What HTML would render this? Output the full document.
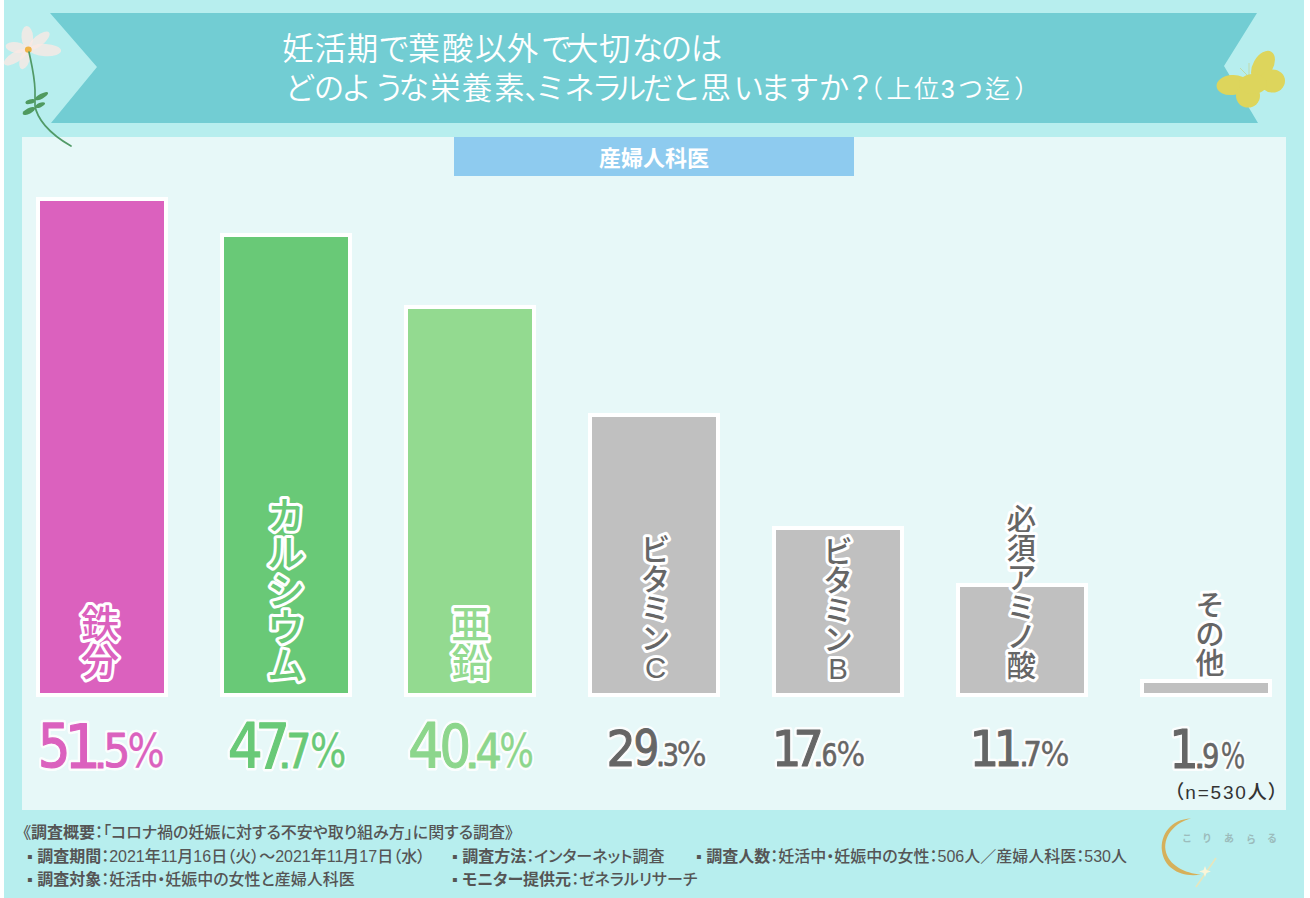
<!DOCTYPE html>
<html lang="ja"><head><meta charset="utf-8"><title>妊活期で葉酸以外で大切な栄養素</title>
<style>
*{margin:0;padding:0;box-sizing:content-box}
html,body{width:1310px;height:898px;overflow:hidden;background:#fff}
body{position:relative;font-family:"Liberation Sans","Noto Sans CJK JP",sans-serif}
.bg{position:absolute;left:4px;top:0;width:1300px;height:898px;background:#b7eeee}
.panel{position:absolute;left:22px;top:137px;width:1264px;height:673px;background:#e7f8f8}
.sub{position:absolute;left:454px;top:137px;width:400px;height:39px;background:#8ecbef;color:#fff;
  font:700 22px/44px "Liberation Sans","Noto Sans CJK JP",sans-serif;text-align:center;letter-spacing:0}
.bar{position:absolute;border:4px solid #fff}
.t1,.t2{position:absolute;color:#fff;white-space:nowrap;font-family:"Liberation Sans","Noto Sans CJK JP",sans-serif;font-weight:400}
.t1,.t2{font-feature-settings:"palt"}
.t1{left:282px;top:33px;font-size:31px;line-height:1}
.t2{left:287px;top:73px;font-size:31px;line-height:1}
.t2 small{font-size:23px}
svg{position:absolute;left:0;top:0}
.foot{position:absolute;color:#555555;font:500 16px/1 "Liberation Sans","Noto Sans CJK JP",sans-serif;white-space:nowrap;font-feature-settings:"palt"}
.foot b{font-weight:700}
.n{position:absolute;left:1174px;top:783px;color:#333;font:500 19px/1 "Liberation Sans","Noto Sans CJK JP",sans-serif;white-space:nowrap;letter-spacing:1.8px;font-feature-settings:"palt"}
</style></head><body>
<div class="bg"></div>
<svg width="1310" height="140" viewBox="0 0 1310 140">
 <polygon points="50,13 1257,13 1224,66 1258,123 51,123 97,67" fill="#72cdd3"/>
 <g font-family="Liberation Sans, Noto Sans CJK JP, sans-serif"><g fill="#fff" font-weight="350"><text x="282.28" y="59.5" font-size="31.5">妊</text><text x="314.68" y="59.5" font-size="31.5">活</text><text x="346.74" y="59.5" font-size="31.5">期</text><text x="378.28" y="59.5" font-size="31.5">で</text><text x="408.20" y="59.5" font-size="31.5">葉</text><text x="441.97" y="59.5" font-size="31.5">酸</text><text x="474.94" y="59.5" font-size="31.5">以</text><text x="506.75" y="59.5" font-size="31.5">外</text><text x="540.88" y="59.5" font-size="31.5">で</text><text x="566.88" y="59.5" font-size="31.5">大</text><text x="599.05" y="59.5" font-size="31.5">切</text><text x="631.71" y="59.5" font-size="31.5">な</text><text x="660.66" y="59.5" font-size="31.5">の</text><text x="690.68" y="59.5" font-size="31.5">は</text><text x="284.66" y="98.8" font-size="30.5">ど</text><text x="313.75" y="98.8" font-size="30.5">の</text><text x="341.19" y="98.8" font-size="30.5">よ</text><text x="373.97" y="98.8" font-size="30.5">う</text><text x="398.60" y="98.8" font-size="30.5">な</text><text x="429.93" y="98.8" font-size="30.5">栄</text><text x="461.63" y="98.8" font-size="30.5">養</text><text x="494.33" y="98.8" font-size="30.5">素</text><text x="524.32" y="98.8" font-size="30.5">、</text><text x="534.97" y="98.8" font-size="30.5">ミ</text><text x="564.16" y="98.8" font-size="30.5">ネ</text><text x="591.73" y="98.8" font-size="30.5">ラ</text><text x="615.66" y="98.8" font-size="30.5">ル</text><text x="642.57" y="98.8" font-size="30.5">だ</text><text x="670.40" y="98.8" font-size="30.5">と</text><text x="700.48" y="98.8" font-size="30.5">思</text><text x="733.49" y="98.8" font-size="30.5">い</text><text x="760.11" y="98.8" font-size="30.5">ま</text><text x="788.60" y="98.8" font-size="30.5">す</text><text x="818.86" y="98.8" font-size="30.5">か</text><text x="844.92" y="98.8" font-size="30.5">？</text><text x="858.02" y="98.4" font-size="25">（</text><text x="886.55" y="98.4" font-size="25">上</text><text x="914.10" y="98.4" font-size="25">位</text><text x="940.65" y="98.4" font-size="25">3</text><text x="958.12" y="98.4" font-size="25">つ</text><text x="985.12" y="98.4" font-size="25">迄</text><text x="1014.35" y="98.4" font-size="25">）</text></g></g>
</svg>
<div class="panel"></div>
<div class="sub">産婦人科医</div>
<div class="bar" style="left:36px;top:197px;width:124px;height:492px;background:#db61be"></div><div class="bar" style="left:220px;top:233px;width:124px;height:456px;background:#69c977"></div><div class="bar" style="left:404px;top:305px;width:124px;height:384px;background:#93da90"></div><div class="bar" style="left:588px;top:413px;width:124px;height:276px;background:#c0c0c0"></div><div class="bar" style="left:772px;top:526px;width:124px;height:163px;background:#c0c0c0"></div><div class="bar" style="left:956px;top:583px;width:124px;height:106px;background:#c0c0c0"></div><div class="bar" style="left:1140px;top:679px;width:124px;height:10px;background:#c0c0c0"></div>
<svg width="1310" height="898" viewBox="0 0 1310 898" font-family="Liberation Sans, Noto Sans CJK JP, sans-serif">
<g font-size="38" font-weight="500" fill="#db61be" stroke="#fff" stroke-width="6.0" stroke-linejoin="round" paint-order="stroke" text-anchor="middle"><text x="100.0" y="636.88">鉄</text><text x="100.0" y="674.88">分</text></g><g font-size="37.5" font-weight="500" fill="#69c977" stroke="#fff" stroke-width="6.0" stroke-linejoin="round" paint-order="stroke" text-anchor="middle"><text x="286.0" y="528.90">カ</text><text x="286.0" y="566.40">ル</text><text x="286.0" y="603.90">シ</text><text x="286.0" y="641.40">ウ</text><text x="286.0" y="678.90">ム</text></g><g font-size="38" font-weight="500" fill="#93da90" stroke="#fff" stroke-width="6.0" stroke-linejoin="round" paint-order="stroke" text-anchor="middle"><text x="470.5" y="637.67">亜</text><text x="470.5" y="675.67">鉛</text></g><g font-size="29.4" font-weight="500" fill="#666666" stroke="#fff" stroke-width="6.0" stroke-linejoin="round" paint-order="stroke" text-anchor="middle"><text x="655.5" y="560.46">ビ</text><text x="655.5" y="589.86">タ</text><text x="655.5" y="619.26">ミ</text><text x="655.5" y="648.66">ン</text><text x="655.5" y="678.06">C</text></g><g font-size="29.4" font-weight="500" fill="#666666" stroke="#fff" stroke-width="6.0" stroke-linejoin="round" paint-order="stroke" text-anchor="middle"><text x="838.0" y="561.70">ビ</text><text x="838.0" y="591.10">タ</text><text x="838.0" y="620.50">ミ</text><text x="838.0" y="649.90">ン</text><text x="838.0" y="679.30">B</text></g><g font-size="29.3" font-weight="500" fill="#666666" stroke="#fff" stroke-width="6.0" stroke-linejoin="round" paint-order="stroke" text-anchor="middle"><text x="1021.5" y="529.81">必</text><text x="1021.5" y="559.11">須</text><text x="1021.5" y="588.41">ア</text><text x="1021.5" y="617.71">ミ</text><text x="1021.5" y="647.01">ノ</text><text x="1021.5" y="676.31">酸</text></g><g font-size="29.0" font-weight="500" fill="#666666" stroke="#fff" stroke-width="6.0" stroke-linejoin="round" paint-order="stroke" text-anchor="middle"><text x="1210.0" y="616.03">そ</text><text x="1210.0" y="645.03">の</text><text x="1210.0" y="674.03">他</text></g>
<g font-family="DejaVu Sans, sans-serif" font-weight="400"><text transform="translate(37.63 766.90) scale(0.856 1)" font-size="60.27" fill="#fff" stroke="#fff" stroke-width="6.2" stroke-linejoin="round" opacity="0.85">5</text><text transform="translate(64.23 767.80) scale(0.948 1)" font-size="61.10" fill="#fff" stroke="#fff" stroke-width="6.2" stroke-linejoin="round" opacity="0.85">1</text><text transform="translate(93.40 767.90) scale(1.119 1)" font-size="40.00" fill="#fff" stroke="#fff" stroke-width="6.0" stroke-linejoin="round" opacity="0.85">.</text><text transform="translate(103.29 767.20) scale(0.919 1)" font-size="46.49" fill="#fff" stroke="#fff" stroke-width="6.0" stroke-linejoin="round" opacity="0.85">5</text><text transform="translate(127.60 767.36) scale(0.847 1)" font-size="46.23" fill="#fff" stroke="#fff" stroke-width="5.3" stroke-linejoin="round" opacity="0.85">%</text><text transform="translate(227.85 767.80) scale(0.896 1)" font-size="61.52" fill="#fff" stroke="#fff" stroke-width="6.2" stroke-linejoin="round" opacity="0.85">4</text><text transform="translate(255.21 767.80) scale(0.892 1)" font-size="61.52" fill="#fff" stroke="#fff" stroke-width="6.2" stroke-linejoin="round" opacity="0.85">7</text><text transform="translate(278.00 767.90) scale(1.071 1)" font-size="40.00" fill="#fff" stroke="#fff" stroke-width="6.0" stroke-linejoin="round" opacity="0.85">.</text><text transform="translate(286.35 767.90) scale(0.830 1)" font-size="47.45" fill="#fff" stroke="#fff" stroke-width="6.0" stroke-linejoin="round" opacity="0.85">7</text><text transform="translate(310.04 767.36) scale(0.829 1)" font-size="46.23" fill="#fff" stroke="#fff" stroke-width="5.3" stroke-linejoin="round" opacity="0.85">%</text><text transform="translate(408.00 767.50) scale(0.909 1)" font-size="61.66" fill="#fff" stroke="#fff" stroke-width="6.2" stroke-linejoin="round" opacity="0.85">4</text><text transform="translate(439.58 766.61) scale(0.836 1)" font-size="59.21" fill="#fff" stroke="#fff" stroke-width="6.2" stroke-linejoin="round" opacity="0.85">0</text><text transform="translate(464.20 767.60) scale(1.237 1)" font-size="40.80" fill="#fff" stroke="#fff" stroke-width="6.0" stroke-linejoin="round" opacity="0.85">.</text><text transform="translate(475.42 767.60) scale(0.865 1)" font-size="48.00" fill="#fff" stroke="#fff" stroke-width="6.0" stroke-linejoin="round" opacity="0.85">4</text><text transform="translate(499.14 767.24) scale(0.777 1)" font-size="47.02" fill="#fff" stroke="#fff" stroke-width="5.3" stroke-linejoin="round" opacity="0.85">%</text><text transform="translate(606.49 766.05) scale(0.919 1)" font-size="50.14" fill="#fff" stroke="#fff" stroke-width="6.1" stroke-linejoin="round" opacity="0.85">2</text><text transform="translate(633.51 765.31) scale(0.826 1)" font-size="49.14" fill="#fff" stroke="#fff" stroke-width="6.1" stroke-linejoin="round" opacity="0.85">9</text><text transform="translate(656.00 766.10) scale(0.893 1)" font-size="32.00" fill="#fff" stroke="#fff" stroke-width="6.0" stroke-linejoin="round" opacity="0.85">.</text><text transform="translate(662.84 765.76) scale(0.780 1)" font-size="32.58" fill="#fff" stroke="#fff" stroke-width="5.7" stroke-linejoin="round" opacity="0.85">3</text><text transform="translate(676.72 766.14) scale(0.931 1)" font-size="33.77" fill="#fff" stroke="#fff" stroke-width="5.3" stroke-linejoin="round" opacity="0.85">%</text><text transform="translate(771.72 766.05) scale(0.931 1)" font-size="50.14" fill="#fff" stroke="#fff" stroke-width="6.1" stroke-linejoin="round" opacity="0.85">1</text><text transform="translate(793.17 766.05) scale(0.961 1)" font-size="50.48" fill="#fff" stroke="#fff" stroke-width="6.1" stroke-linejoin="round" opacity="0.85">7</text><text transform="translate(813.10 766.10) scale(1.071 1)" font-size="32.00" fill="#fff" stroke="#fff" stroke-width="6.0" stroke-linejoin="round" opacity="0.85">.</text><text transform="translate(821.59 765.77) scale(0.791 1)" font-size="31.79" fill="#fff" stroke="#fff" stroke-width="5.7" stroke-linejoin="round" opacity="0.85">6</text><text transform="translate(836.49 765.96) scale(0.921 1)" font-size="32.85" fill="#fff" stroke="#fff" stroke-width="5.3" stroke-linejoin="round" opacity="0.85">%</text><text transform="translate(969.62 766.05) scale(0.931 1)" font-size="50.14" fill="#fff" stroke="#fff" stroke-width="6.1" stroke-linejoin="round" opacity="0.85">1</text><text transform="translate(993.84 766.05) scale(0.890 1)" font-size="50.14" fill="#fff" stroke="#fff" stroke-width="6.1" stroke-linejoin="round" opacity="0.85">1</text><text transform="translate(1019.50 766.10) scale(0.893 1)" font-size="32.00" fill="#fff" stroke="#fff" stroke-width="6.0" stroke-linejoin="round" opacity="0.85">.</text><text transform="translate(1023.55 766.25) scale(0.836 1)" font-size="34.34" fill="#fff" stroke="#fff" stroke-width="5.7" stroke-linejoin="round" opacity="0.85">7</text><text transform="translate(1040.47 765.95) scale(0.909 1)" font-size="33.51" fill="#fff" stroke="#fff" stroke-width="5.3" stroke-linejoin="round" opacity="0.85">%</text><text transform="translate(1169.34 768.25) scale(0.883 1)" font-size="52.60" fill="#fff" stroke="#fff" stroke-width="6.1" stroke-linejoin="round" opacity="0.85">1</text><text transform="translate(1194.00 768.30) scale(1.131 1)" font-size="32.00" fill="#fff" stroke="#fff" stroke-width="6.0" stroke-linejoin="round" opacity="0.85">.</text><text transform="translate(1202.07 767.93) scale(0.793 1)" font-size="34.57" fill="#fff" stroke="#fff" stroke-width="5.7" stroke-linejoin="round" opacity="0.85">9</text><text transform="translate(1220.73 768.11) scale(0.717 1)" font-size="36.03" fill="#fff" stroke="#fff" stroke-width="5.3" stroke-linejoin="round" opacity="0.85">%</text><text transform="translate(37.63 766.90) scale(0.856 1)" font-size="60.27" fill="#db61be" stroke="#db61be" stroke-width="1.20" stroke-linejoin="round">5</text><text transform="translate(64.23 767.80) scale(0.948 1)" font-size="61.10" fill="#db61be" stroke="#db61be" stroke-width="1.20" stroke-linejoin="round">1</text><text transform="translate(93.40 767.90) scale(1.119 1)" font-size="40.00" fill="#db61be" stroke="#db61be" stroke-width="1.00" stroke-linejoin="round">.</text><text transform="translate(103.29 767.20) scale(0.919 1)" font-size="46.49" fill="#db61be" stroke="#db61be" stroke-width="1.00" stroke-linejoin="round">5</text><text transform="translate(127.60 767.36) scale(0.847 1)" font-size="46.23" fill="#db61be" stroke="#db61be" stroke-width="0.30" stroke-linejoin="round">%</text><text transform="translate(227.85 767.80) scale(0.896 1)" font-size="61.52" fill="#69c977" stroke="#69c977" stroke-width="1.20" stroke-linejoin="round">4</text><text transform="translate(255.21 767.80) scale(0.892 1)" font-size="61.52" fill="#69c977" stroke="#69c977" stroke-width="1.20" stroke-linejoin="round">7</text><text transform="translate(278.00 767.90) scale(1.071 1)" font-size="40.00" fill="#69c977" stroke="#69c977" stroke-width="1.00" stroke-linejoin="round">.</text><text transform="translate(286.35 767.90) scale(0.830 1)" font-size="47.45" fill="#69c977" stroke="#69c977" stroke-width="1.00" stroke-linejoin="round">7</text><text transform="translate(310.04 767.36) scale(0.829 1)" font-size="46.23" fill="#69c977" stroke="#69c977" stroke-width="0.30" stroke-linejoin="round">%</text><text transform="translate(408.00 767.50) scale(0.909 1)" font-size="61.66" fill="#8dd68c" stroke="#8dd68c" stroke-width="1.20" stroke-linejoin="round">4</text><text transform="translate(439.58 766.61) scale(0.836 1)" font-size="59.21" fill="#8dd68c" stroke="#8dd68c" stroke-width="1.20" stroke-linejoin="round">0</text><text transform="translate(464.20 767.60) scale(1.237 1)" font-size="40.80" fill="#8dd68c" stroke="#8dd68c" stroke-width="1.00" stroke-linejoin="round">.</text><text transform="translate(475.42 767.60) scale(0.865 1)" font-size="48.00" fill="#8dd68c" stroke="#8dd68c" stroke-width="1.00" stroke-linejoin="round">4</text><text transform="translate(499.14 767.24) scale(0.777 1)" font-size="47.02" fill="#8dd68c" stroke="#8dd68c" stroke-width="0.30" stroke-linejoin="round">%</text><text transform="translate(606.49 766.05) scale(0.919 1)" font-size="50.14" fill="#666666" stroke="#666666" stroke-width="1.10" stroke-linejoin="round">2</text><text transform="translate(633.51 765.31) scale(0.826 1)" font-size="49.14" fill="#666666" stroke="#666666" stroke-width="1.10" stroke-linejoin="round">9</text><text transform="translate(656.00 766.10) scale(0.893 1)" font-size="32.00" fill="#666666" stroke="#666666" stroke-width="1.00" stroke-linejoin="round">.</text><text transform="translate(662.84 765.76) scale(0.780 1)" font-size="32.58" fill="#666666" stroke="#666666" stroke-width="0.70" stroke-linejoin="round">3</text><text transform="translate(676.72 766.14) scale(0.931 1)" font-size="33.77" fill="#666666" stroke="#666666" stroke-width="0.30" stroke-linejoin="round">%</text><text transform="translate(771.72 766.05) scale(0.931 1)" font-size="50.14" fill="#666666" stroke="#666666" stroke-width="1.10" stroke-linejoin="round">1</text><text transform="translate(793.17 766.05) scale(0.961 1)" font-size="50.48" fill="#666666" stroke="#666666" stroke-width="1.10" stroke-linejoin="round">7</text><text transform="translate(813.10 766.10) scale(1.071 1)" font-size="32.00" fill="#666666" stroke="#666666" stroke-width="1.00" stroke-linejoin="round">.</text><text transform="translate(821.59 765.77) scale(0.791 1)" font-size="31.79" fill="#666666" stroke="#666666" stroke-width="0.70" stroke-linejoin="round">6</text><text transform="translate(836.49 765.96) scale(0.921 1)" font-size="32.85" fill="#666666" stroke="#666666" stroke-width="0.30" stroke-linejoin="round">%</text><text transform="translate(969.62 766.05) scale(0.931 1)" font-size="50.14" fill="#666666" stroke="#666666" stroke-width="1.10" stroke-linejoin="round">1</text><text transform="translate(993.84 766.05) scale(0.890 1)" font-size="50.14" fill="#666666" stroke="#666666" stroke-width="1.10" stroke-linejoin="round">1</text><text transform="translate(1019.50 766.10) scale(0.893 1)" font-size="32.00" fill="#666666" stroke="#666666" stroke-width="1.00" stroke-linejoin="round">.</text><text transform="translate(1023.55 766.25) scale(0.836 1)" font-size="34.34" fill="#666666" stroke="#666666" stroke-width="0.70" stroke-linejoin="round">7</text><text transform="translate(1040.47 765.95) scale(0.909 1)" font-size="33.51" fill="#666666" stroke="#666666" stroke-width="0.30" stroke-linejoin="round">%</text><text transform="translate(1169.34 768.25) scale(0.883 1)" font-size="52.60" fill="#666666" stroke="#666666" stroke-width="1.10" stroke-linejoin="round">1</text><text transform="translate(1194.00 768.30) scale(1.131 1)" font-size="32.00" fill="#666666" stroke="#666666" stroke-width="1.00" stroke-linejoin="round">.</text><text transform="translate(1202.07 767.93) scale(0.793 1)" font-size="34.57" fill="#666666" stroke="#666666" stroke-width="0.70" stroke-linejoin="round">9</text><text transform="translate(1220.73 768.11) scale(0.717 1)" font-size="36.03" fill="#666666" stroke="#666666" stroke-width="0.30" stroke-linejoin="round">%</text></g>
</svg>
<svg width="1310" height="898" viewBox="0 0 1310 898"><defs><filter id="pb" x="-20%" y="-20%" width="140%" height="140%"><feGaussianBlur stdDeviation="0.7"/></filter></defs><g filter="url(#pb)"><ellipse cx="27.3" cy="37.2" rx="11.1" ry="5.8" transform="rotate(-93.6 27.3 37.2)" fill="#fbe9e4" opacity="0.78"/><ellipse cx="39.1" cy="40.6" rx="12.8" ry="5.2" transform="rotate(-38.7 39.1 40.6)" fill="#fbe9e4" opacity="0.78"/><ellipse cx="45.4" cy="50.1" rx="15.7" ry="6.2" transform="rotate(2.4 45.4 50.1)" fill="#fbe9e4" opacity="0.78"/><ellipse cx="16.3" cy="47.5" rx="10.8" ry="5.2" transform="rotate(-171.0 16.3 47.5)" fill="#fbe9e4" opacity="0.78"/><ellipse cx="15.6" cy="57.1" rx="13.4" ry="5.2" transform="rotate(148.4 15.6 57.1)" fill="#fbe9e4" opacity="0.78"/><ellipse cx="24.7" cy="59.7" rx="9.8" ry="4.8" transform="rotate(108.1 24.7 59.7)" fill="#fbe9e4" opacity="0.78"/></g><g><ellipse cx="28.3" cy="49.6" rx="3.4" ry="3.2" fill="#f0b447"/><path d="M29 52 C31 62 34.5 75 35 90 L35 106 C37 118 48 133 71 146" fill="none" stroke="#519a67" stroke-width="1.7" stroke-linecap="round"/><ellipse cx="41.5" cy="96.2" rx="7.4" ry="2.5" transform="rotate(-28.2 41.5 96.2)" fill="#4f9a5f"/><ellipse cx="30.2" cy="101.7" rx="4.9" ry="2.2" transform="rotate(164.9 30.2 101.7)" fill="#4f9a5f"/><ellipse cx="40.0" cy="105.1" rx="5.4" ry="2.2" transform="rotate(-22.9 40.0 105.1)" fill="#4f9a5f"/><ellipse cx="28.9" cy="110.9" rx="6.9" ry="2.8" transform="rotate(152.8 28.9 110.9)" fill="#4f9a5f"/></g><g fill="#ddd55c"><ellipse cx="1263" cy="66" rx="10" ry="16.5" transform="rotate(30 1263 66)"/><ellipse cx="1272.5" cy="81" rx="12.5" ry="11.5"/><ellipse cx="1232" cy="85" rx="15.5" ry="10" transform="rotate(-6 1232 85)"/><ellipse cx="1248" cy="96" rx="12" ry="11.5"/><ellipse cx="1253" cy="84" rx="14" ry="10"/></g><g stroke="#c9cf7a" stroke-width="1" fill="none" opacity="0.6"><path d="M1247 75 L1240 68"/><path d="M1249 75 L1249 63"/></g><g><path d="M1191 818.5 C1171 819 1160 835 1162 851 C1164 868 1181 878 1201 874.5 C1185 873.5 1168 865 1165.5 850 C1163.5 835 1176 822 1191 818.5 Z" fill="#d6b05a"/><path d="M1196 887 L1216 858" stroke="#f4e4b0" stroke-width="1.6" opacity="0.8"/><path d="M1205 866 L1206.5 870 L1211 871.5 L1206.5 873 L1205 877 L1203.5 873 L1199 871.5 L1203.5 870 Z" fill="#fff6d8" opacity="0.9"/><g font-size="10" font-weight="700" fill="#9cbcbc" font-family="Liberation Sans, Noto Sans CJK JP, sans-serif" text-anchor="middle"><text x="1187" y="842">こ</text><text x="1207" y="842">り</text><text x="1229" y="842">あ</text><text x="1251" y="843">ら</text><text x="1272" y="842">る</text></g></g></svg>
<div class="n">（n=530人）</div>
<div class="foot" style="left:23px;top:825px">《<b>調査概要</b>：「コロナ禍の妊娠に対する不安や取り組み方」に関する調査》</div>
<div class="foot" style="left:27px;top:849px">▪ <b>調査期間</b>：2021年11月16日（火）～2021年11月17日（水）</div>
<div class="foot" style="left:27px;top:872px">▪ <b>調査対象</b>：妊活中・妊娠中の女性と産婦人科医</div>
<div class="foot" style="left:452px;top:849px">▪ <b>調査方法</b>：インターネット調査</div>
<div class="foot" style="left:452px;top:872px">▪ <b>モニター提供元</b>：ゼネラルリサーチ</div>
<div class="foot" style="left:696px;top:849px">▪ <b>調査人数</b>：妊活中・妊娠中の女性：506人／産婦人科医：530人</div>
</body></html>
